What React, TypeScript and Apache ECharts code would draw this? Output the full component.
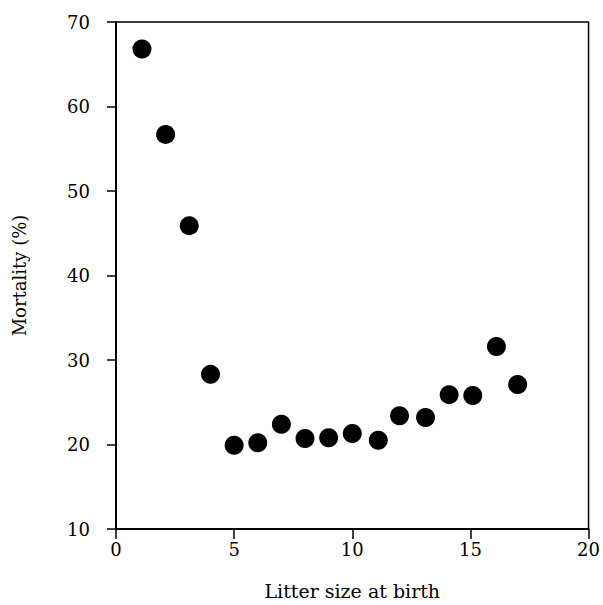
import React, { useEffect, useRef } from "react";
import * as echarts from "echarts";

const litterSize = [1.1, 2.1, 3.1, 4.0, 5.0, 6.0, 7.0, 8.0, 9.0, 10.0, 11.1, 12.0, 13.1, 14.1, 15.1, 16.1, 17.0];
const mortality = [66.8, 56.7, 45.9, 28.3, 19.9, 20.2, 22.4, 20.7, 20.8, 21.3, 20.5, 23.4, 23.2, 25.9, 25.8, 31.6, 27.1];
const xTicks = [0, 5, 10, 15, 20];
const yTicks = [10, 20, 30, 40, 50, 60, 70];
const xTitle = "Litter size at birth";
const yTitle = "Mortality (%)";

const FONT = "DejaVu Serif";

export default function App() {
  const ref = useRef<HTMLDivElement>(null);
  useEffect(() => {
    if (!ref.current) return;
    const chart = echarts.init(ref.current, null, { renderer: "svg" });
    const points = litterSize.map((x, i) => [x, mortality[i]]);
    chart.setOption({
      animation: false,
      backgroundColor: "#ffffff",
      grid: {
        left: 116,
        top: 22,
        width: 479,
        height: 507,
        show: true,
        borderColor: "#000",
        borderWidth: 1.5,
        backgroundColor: "transparent",
      },
      xAxis: {
        type: "value",
        min: xTicks[0],
        max: xTicks[xTicks.length - 1],
        interval: 5,
        name: xTitle,
        nameLocation: "middle",
        nameGap: 52,
        nameTextStyle: { fontFamily: FONT, fontSize: 19, color: "#000" },
        axisLine: { show: true, lineStyle: { color: "#000", width: 2 } },
        axisTick: { show: true, inside: false, length: 10, lineStyle: { color: "#000", width: 1.5 } },
        axisLabel: { margin: 11, fontFamily: FONT, fontSize: 18, color: "#000" },
        splitLine: { show: false },
      },
      yAxis: {
        type: "value",
        min: yTicks[0],
        max: yTicks[yTicks.length - 1],
        interval: 10,
        name: yTitle,
        nameLocation: "middle",
        nameGap: 88,
        nameTextStyle: { fontFamily: FONT, fontSize: 18, color: "#000" },
        axisLine: { show: true, lineStyle: { color: "#000", width: 2 } },
        axisTick: { show: true, inside: false, length: 9, lineStyle: { color: "#000", width: 1.5 } },
        axisLabel: { margin: 26, fontFamily: FONT, fontSize: 18, color: "#000" },
        splitLine: { show: false },
      },
      series: [
        {
          type: "scatter",
          data: points,
          symbol: "circle",
          symbolSize: 19,
          itemStyle: { color: "#000", opacity: 1 },
        },
      ],
    });
    return () => chart.dispose();
  }, []);
  return (
    <div
      ref={ref}
      style={{ position: "fixed", left: 0, top: 0, width: 603, height: 605, background: "#fff" }}
    />
  );
}
